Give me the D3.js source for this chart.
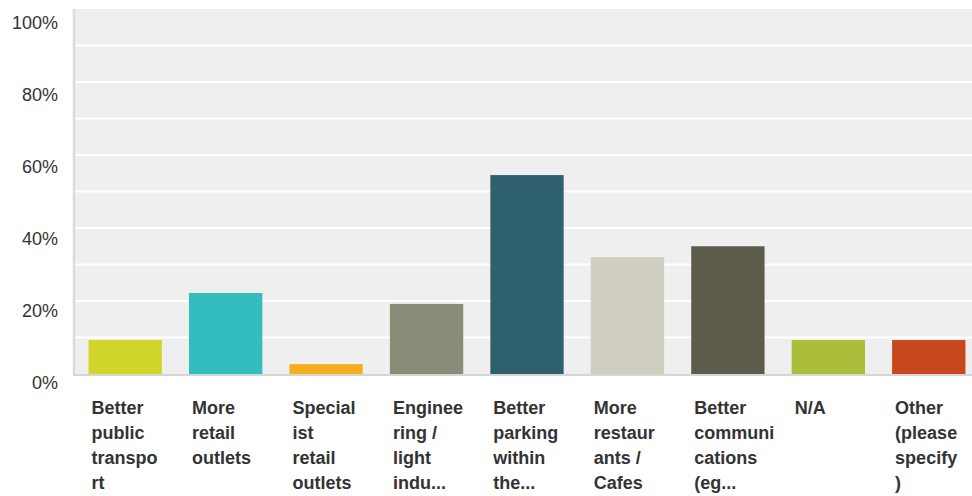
<!DOCTYPE html>
<html>
<head>
<meta charset="utf-8">
<script src="https://cdn.jsdelivr.net/npm/d3@7"></script>
<style>
  body { margin: 0; background: #fff; }
  text { font-family: "Liberation Sans", Arial, sans-serif; }
</style>
</head>
<body>
<script>
// categories as wrapped label lines
var categories = [
    ["Better", "public", "transpo", "rt"],
    ["More", "retail", "outlets"],
    ["Special", "ist", "retail", "outlets"],
    ["Enginee", "ring /", "light", "indu..."],
    ["Better", "parking", "within", "the..."],
    ["More", "restaur", "ants /", "Cafes"],
    ["Better", "communi", "cations", "(eg..."],
    ["N/A"],
    ["Other", "(please", "specify", ")"]
];
var values = [9.3, 22.2, 2.7, 19.2, 54.5, 32.0, 35.0, 9.3, 9.3];
var colors = ["#d0d52a", "#33bdbe", "#f6ad1f", "#8a8b79", "#2f606d", "#d0cec0", "#5c5b4c", "#abbd3b", "#c9471c"];
var yTicks = [0, 20, 40, 60, 80, 100];
var gridTicks = [10, 20, 30, 40, 50, 60, 70, 80, 90];

var w = 972, h = 496;
// plot runs a little past the right edge of the window, as in the original
var plotLeft = 75, plotRight = 979, plotTop = 9, plotBottom = 374;

var svg = d3.select("body").append("svg")
    .attr("width", w)
    .attr("height", h);

var x = d3.scaleBand()
    .domain(d3.range(categories.length))
    .range([plotLeft, plotRight])
    .paddingInner(0.27)
    .paddingOuter(0.135);

var y = d3.scaleLinear()
    .domain([0, 100])
    .range([plotBottom, plotTop]);

// tick labels hang below their gridline, spaced a touch tighter
var yLab = d3.scaleLinear()
    .domain([0, 100])
    .range([389, 29]);

// plot background
svg.append("rect")
    .attr("x", plotLeft)
    .attr("y", plotTop)
    .attr("width", plotRight - plotLeft)
    .attr("height", plotBottom - plotTop)
    .attr("fill", "#efefef");

// white gridlines
svg.selectAll("line.grid")
    .data(gridTicks)
    .enter()
    .append("line")
    .attr("class", "grid")
    .attr("x1", plotLeft)
    .attr("x2", plotRight)
    .attr("y1", function (d) { return y(d); })
    .attr("y2", function (d) { return y(d); })
    .attr("stroke", "#fff")
    .attr("stroke-width", 2);

// left border
svg.append("line")
    .attr("x1", plotLeft - 1).attr("x2", plotLeft - 1)
    .attr("y1", plotTop).attr("y2", plotBottom + 1)
    .attr("stroke", "#dcdcdc")
    .attr("stroke-width", 2.5);

// bars
svg.selectAll("rect.bar")
    .data(values)
    .enter()
    .append("rect")
    .attr("class", "bar")
    .attr("x", function (d, i) { return x(i); })
    .attr("y", function (d) { return y(d); })
    .attr("width", x.bandwidth())
    .attr("height", function (d) { return y(0) - y(d); })
    .attr("fill", function (d, i) { return colors[i]; });

// bottom axis line
svg.append("line")
    .attr("x1", plotLeft - 2).attr("x2", plotRight)
    .attr("y1", plotBottom + 1).attr("y2", plotBottom + 1)
    .attr("stroke", "#d6d6d6")
    .attr("stroke-width", 2);

// y labels
svg.selectAll("text.ylab")
    .data(yTicks)
    .enter()
    .append("text")
    .attr("class", "ylab")
    .attr("x", 58)
    .attr("y", function (d) { return yLab(d); })
    .attr("text-anchor", "end")
    .attr("font-size", 18)
    .attr("fill", "#333")
    .text(function (d) { return d + "%"; });

// x labels
var xl = svg.selectAll("text.xlab")
    .data(categories)
    .enter()
    .append("text")
    .attr("class", "xlab")
    .attr("font-size", 18)
    .attr("font-weight", "bold")
    .attr("fill", "#333");

xl.selectAll("tspan")
    .data(function (d, i) { return d.map(function (s) { return { s: s, i: i }; }); })
    .enter()
    .append("tspan")
    .attr("x", function (d) { return x(d.i) + 3; })
    .attr("y", function (d, j) { return 414 + j * 25; })
    .text(function (d) { return d.s; });
</script>
</body>
</html>
